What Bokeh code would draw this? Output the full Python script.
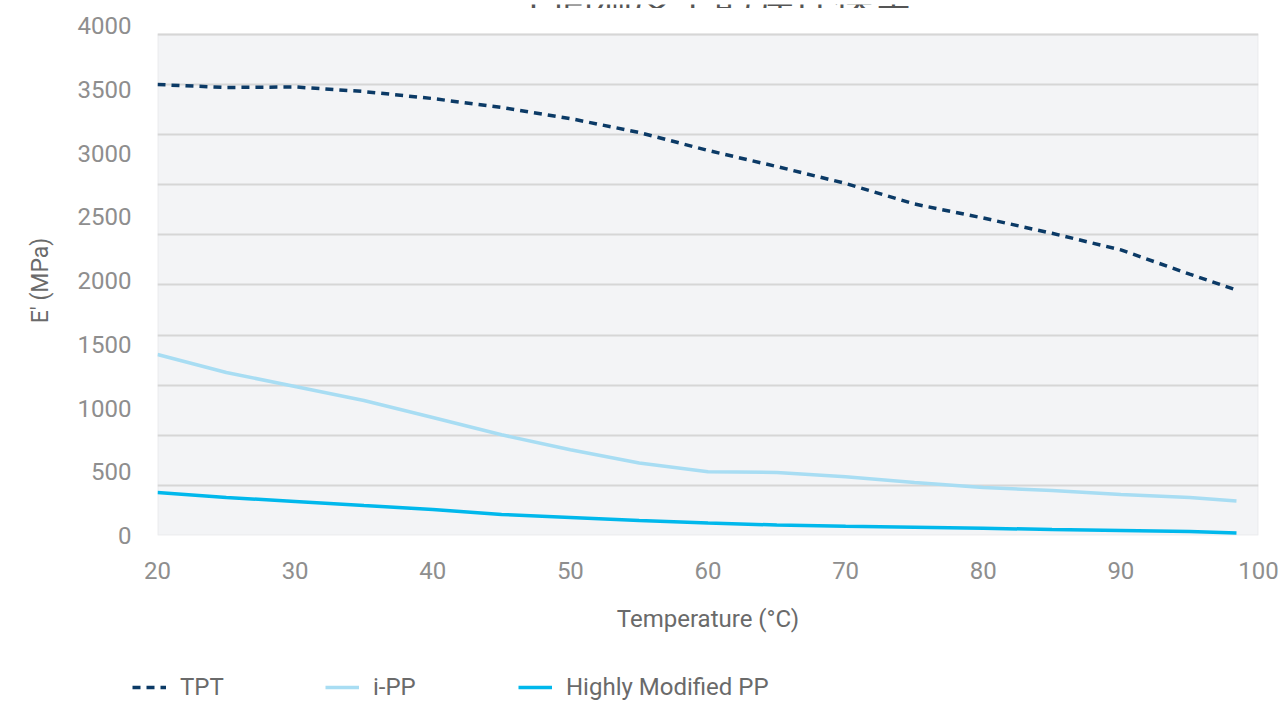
from bokeh.plotting import figure
from bokeh.layouts import column
from bokeh.models import Range1d, FixedTicker, BoxAnnotation, Legend, LegendItem, Label
from bokeh.embed import file_html
from bokeh.resources import INLINE

# ---- data ----
temperature = [20, 25, 30, 35, 40, 45, 50, 55, 60, 65, 70, 75, 80, 85, 90, 95, 98.4]
tpt = [3537, 3514, 3518, 3482, 3427, 3357, 3270, 3161, 3020, 2894, 2761, 2600, 2490, 2370, 2240, 2050, 1925]
ipp = [1420, 1278, 1169, 1059, 925, 790, 672, 568, 500, 495, 460, 416, 376, 353, 322, 298, 271]
hmpp = [337, 298, 267, 235, 204, 165, 141, 118, 98, 82, 72, 65, 57, 47, 39, 31, 20]

series_names = ["TPT", "i-PP", "Highly Modified PP"]
y_ticks = [0, 500, 1000, 1500, 2000, 2500, 3000, 3500, 4000]
x_ticks = [20, 30, 40, 50, 60, 70, 80, 90, 100]
# shaded plot area and its horizontal grid lines (value scale of the tick labels)
plot_top = 3929
grid_values = [0, 393, 786, 1179, 1572, 1965, 2357, 2750, 3143, 3536, 3929]

title_text = "不同温度下的弹性模量"
x_title = "Temperature (°C)"
y_title = "E' (MPa)"

FONT = "Roboto"
colors = ["#0b3a66", "#a8ddf3", "#00b8ec"]
dashes = ["8 6", "solid", "solid"]
series_values = [tpt, ipp, hmpp]

# ---- title strip (the title is cut off at the top, as in the reference) ----
head = figure(width=1279, height=8, x_range=Range1d(0, 1), y_range=Range1d(0, 1),
              output_backend="svg", toolbar_location=None,
              x_axis_location=None, y_axis_location=None,
              min_border_left=0, min_border_right=0, min_border_top=0, min_border_bottom=0,
              background_fill_color="white", border_fill_color="white",
              outline_line_color=None, frame_align=False)
head.grid.visible = False
head.add_layout(Label(x=0.5575, y=2.5, text=title_text, text_font="Noto Sans CJK SC",
                      text_font_size="40px", text_color="#555555",
                      text_align="center", text_baseline="middle"))

fig = figure(width=1279, height=652,
             x_range=Range1d(20, 100), y_range=Range1d(0, 4000),
             output_backend="svg", toolbar_location=None,
             min_border_left=157, min_border_right=21,
             min_border_top=17, min_border_bottom=125,
             background_fill_color="white", border_fill_color="white",
             outline_line_color=None)

box = BoxAnnotation(left=20, right=100, bottom=0, top=plot_top,
                    fill_color="#f3f4f6", fill_alpha=1,
                    line_color="#d6d6d6", line_width=2, level="image")
fig.add_layout(box)

fig.xgrid.visible = False
fig.ygrid.ticker = FixedTicker(ticks=grid_values)
fig.ygrid.grid_line_color = "#d6d6d6"
fig.ygrid.grid_line_width = 2

for ax in (fig.xaxis[0], fig.yaxis[0]):
    ax.axis_line_color = None
    ax.major_tick_line_color = None
    ax.minor_tick_line_color = None
    ax.major_tick_out = 0
    ax.major_tick_in = 0
    ax.minor_tick_out = 0
    ax.minor_tick_in = 0
    ax.major_label_text_font = FONT
    ax.major_label_text_font_size = "24px"
    ax.major_label_text_color = "#8e8e8e"
    ax.axis_label_text_font = FONT
    ax.axis_label_text_font_style = "normal"
    ax.axis_label_text_color = "#6a6a6a"

fig.yaxis.ticker = FixedTicker(ticks=y_ticks)
fig.yaxis.major_label_standoff = 26
fig.yaxis.axis_label = y_title
fig.yaxis.axis_label_text_font_size = "23px"
fig.yaxis.axis_label_standoff = 21

fig.xaxis.ticker = FixedTicker(ticks=x_ticks)
fig.xaxis.major_label_standoff = 26
fig.xaxis.axis_label = x_title
fig.xaxis.axis_label_text_font_size = "24px"
fig.xaxis.axis_label_standoff = 23

for vals, c, d in zip(series_values, colors, dashes):
    fig.line(temperature, vals, line_color=c, line_width=3.5, line_dash=d)

# ---- legend strip below the chart (its lines sit outside its visible range) ----
leg = figure(width=1279, height=41, x_range=Range1d(0, 1), y_range=Range1d(0, 1),
             output_backend="svg", toolbar_location=None,
             x_axis_location=None, y_axis_location=None,
             min_border_left=0, min_border_right=0, min_border_top=0, min_border_bottom=0,
             background_fill_color="white", border_fill_color="white",
             outline_line_color=None, frame_align=False)
leg.grid.visible = False
items = []
for name, vals, c, d in zip(series_names, series_values, colors, dashes):
    r = leg.line(temperature, vals, line_color=c, line_width=3.5, line_dash=d)
    items.append(LegendItem(label=name, renderers=[r]))

legend = Legend(items=items, orientation="horizontal", location=(132, 0),
                glyph_width=34, glyph_height=20, label_standoff=14,
                label_width=145, spacing=0, padding=0, margin=0,
                border_line_color=None, background_fill_alpha=0,
                label_text_font=FONT, label_text_font_size="24px",
                label_text_color="#6a6a6a")
leg.add_layout(legend)

p = column(head, fig, leg, spacing=0)

open("out.html", "w").write(file_html(p, INLINE))
